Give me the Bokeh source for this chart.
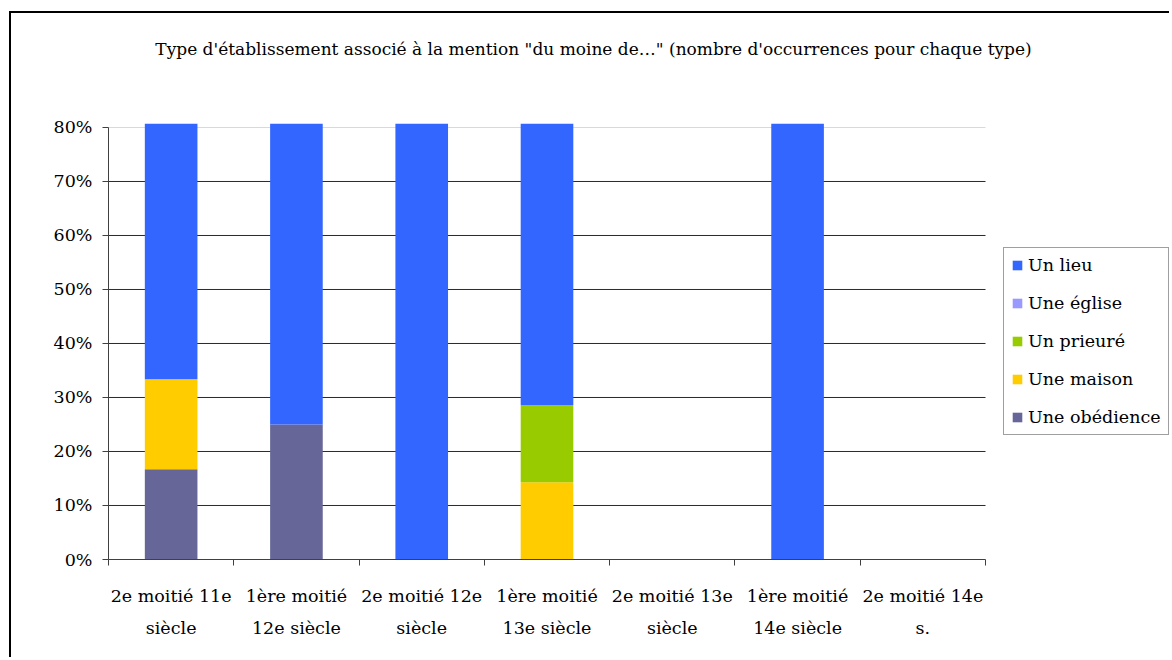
from bokeh.plotting import figure
from bokeh.models import (Range1d, LinearAxis, FixedTicker, ColumnDataSource,
                          PrintfTickFormatter, Legend, LegendItem)
from bokeh.embed import file_html
from bokeh.resources import INLINE

categories = ["2e moitié 11e siècle", "1ère moitié 12e siècle", "2e moitié 12e siècle",
              "1ère moitié 13e siècle", "2e moitié 13e siècle", "1ère moitié 14e siècle",
              "2e moitié 14e s."]
tick_labels = ["2e moitié 11e\nsiècle", "1ère moitié\n12e siècle", "2e moitié 12e\nsiècle",
               "1ère moitié\n13e siècle", "2e moitié 13e\nsiècle", "1ère moitié\n14e siècle",
               "2e moitié 14e\ns."]

# percentage of occurrences per type
une_obedience = [16.7, 25.0, 0, 0, 0, 0, 0]
une_maison = [16.7, 0, 0, 14.3, 0, 0, 0]
un_prieure = [0, 0, 0, 14.3, 0, 0, 0]
une_eglise = [0, 0, 0, 0, 0, 0, 0]
un_lieu = [66.6, 75.0, 100.0, 71.4, 0, 100.0, 0]

series_names = ["Une obédience", "Une maison", "Un prieuré", "Une église", "Un lieu"]
series_keys = ["obedience", "maison", "prieure", "eglise", "lieu"]
series_colors = ["#666699", "#FFCC00", "#99CC00", "#9999FF", "#3366FF"]

y_ticks = [0, 10, 20, 30, 40, 50, 60, 70, 80]
grid_ticks = [10, 20, 30, 40, 50, 60, 70]
title_text = "Type d'établissement associé à la mention \"du moine de…\" (nombre d'occurrences pour chaque type)"

FONT = "DejaVu Serif"
FS = "17.5px"

n = len(categories)
centers = [i + 0.5 for i in range(n)]
bounds = list(range(n + 1))

# plot area spans the categories plus room on the right for the legend
W, H = 1160, 646
LEFT, TOP, BOTTOM = 97, 110, 100
CAT_PX = 877 / n
x_end = (W - LEFT) / CAT_PX
title_x = (593 - 108) / CAT_PX

source = ColumnDataSource(dict(x=centers, cat=categories, obedience=une_obedience,
                               maison=une_maison, prieure=un_prieure,
                               eglise=une_eglise, lieu=un_lieu))

p = figure(width=W, height=H, x_range=Range1d(0, x_end),
           y_range=Range1d(0, 80.74), output_backend="svg", toolbar_location=None,
           x_axis_location=None, min_border_left=LEFT, min_border_right=0,
           min_border_top=TOP, min_border_bottom=BOTTOM)
p.styles = {"border-left": "2px solid black", "border-top": "2px solid black",
            "margin-left": "9px", "margin-top": "11px"}
p.outline_line_color = None
p.background_fill_color = "white"
p.border_fill_color = "white"
p.xgrid.visible = False
p.ygrid.visible = False

# horizontal gridlines limited to the category area
p.segment(x0=0, x1=n, y0=grid_ticks, y1=grid_ticks, line_color="#2b2b2b",
          line_width=1, level="underlay")
p.segment(x0=0, x1=n, y0=[80], y1=[80], line_color="#d9d9d9", line_width=1,
          level="underlay")

renderers = p.vbar_stack(series_keys, x="x", width=0.42, color=series_colors,
                         line_color=None, source=source)

# y axis
ya = p.yaxis[0]
ya.ticker = FixedTicker(ticks=y_ticks)
ya.formatter = PrintfTickFormatter(format="%d%%")
ya.bounds = (0, 80)
ya.axis_line_color = "#404040"
ya.major_tick_line_color = "#404040"
ya.major_tick_out = 6
ya.major_tick_in = 0
ya.minor_tick_line_color = None
ya.major_label_text_font = FONT
ya.major_label_text_font_size = FS
ya.major_label_text_color = "black"
ya.major_label_standoff = 10

# boundary ticks axis
bx = LinearAxis(ticker=FixedTicker(ticks=bounds), bounds=(0, n),
                major_label_text_font_size="1px", major_label_text_alpha=0,
                major_label_standoff=0, major_tick_out=6, major_tick_in=0,
                minor_tick_line_color=None, axis_line_color="#404040",
                major_tick_line_color="#404040")
p.add_layout(bx, "below")

# category labels
cx = LinearAxis(ticker=FixedTicker(ticks=centers), axis_line_color=None,
                major_tick_line_color=None, minor_tick_line_color=None,
                major_label_overrides=dict(zip(centers, tick_labels)),
                major_label_text_font=FONT, major_label_text_font_size=FS,
                major_label_text_color="black", major_label_standoff=14,
                major_label_text_line_height=1.6)
p.add_layout(cx, "below")

# chart title (placed as a single label above the plot area)
tx = LinearAxis(ticker=FixedTicker(ticks=[title_x]), axis_line_color=None,
                major_tick_line_color=None, minor_tick_line_color=None,
                major_label_overrides={title_x: title_text},
                major_label_text_font=FONT, major_label_text_font_size="17px",
                major_label_text_color="black", major_label_standoff=59)
p.add_layout(tx, "above")

# legend
by_name = dict(zip(series_names, renderers))
legend_order = ["Un lieu", "Une église", "Un prieuré", "Une maison", "Une obédience"]
legend = Legend(items=[LegendItem(label=nm, renderers=[by_name[nm]]) for nm in legend_order],
                location=(895, 124), orientation="vertical",
                label_text_font=FONT, label_text_font_size=FS, label_text_color="black",
                glyph_width=12, glyph_height=12, label_height=20, label_standoff=5,
                spacing=18, padding=7, margin=0,
                border_line_color="#404040", border_line_width=1,
                background_fill_color="white", background_fill_alpha=1)
p.add_layout(legend, "center")

open("out.html", "w").write(file_html(p, INLINE))
